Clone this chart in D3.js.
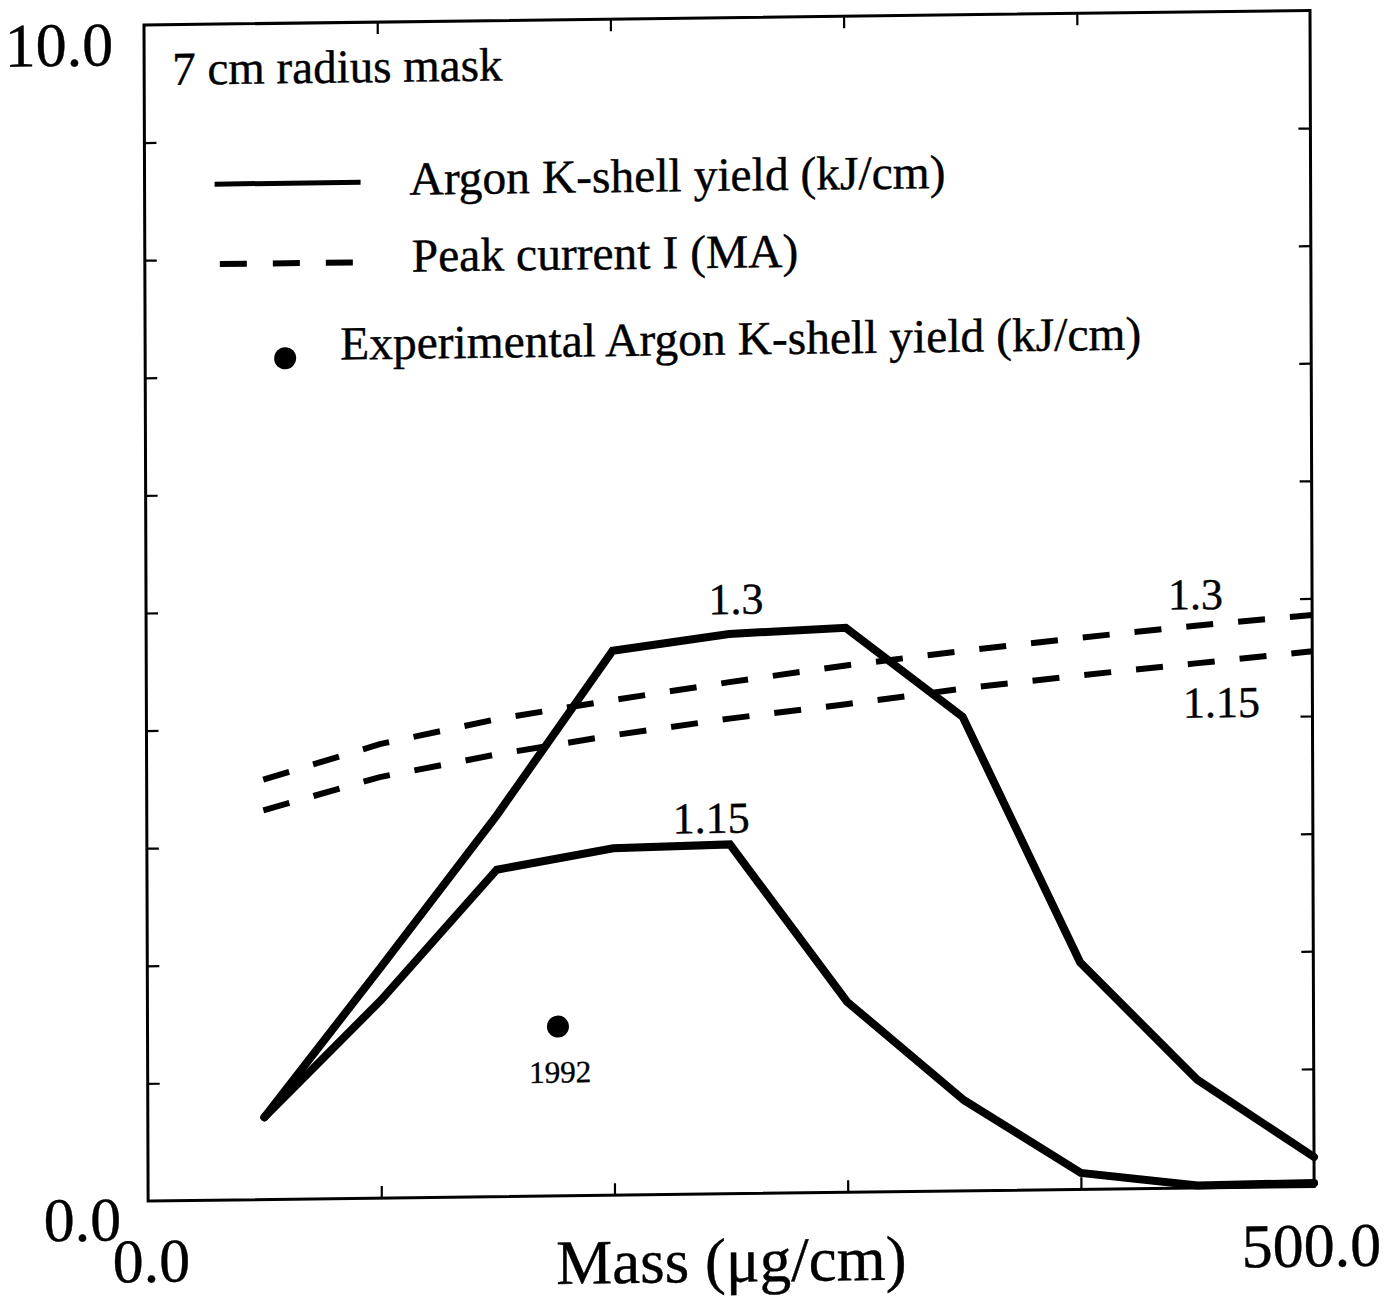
<!DOCTYPE html>
<html>
<head>
<meta charset="utf-8">
<script src="https://cdn.jsdelivr.net/npm/d3@7"></script>
<style>
  html, body { margin: 0; padding: 0; background: #fff; }
  svg { display: block; }
  text { font-family: "Liberation Serif", "Times New Roman", serif; fill: #000; stroke: #000; stroke-width: 0.4; }
</style>
</head>
<body>
<svg id="chart" width="1390" height="1300"></svg>
<script>
// Mass loading (µg/cm) at which the runs were computed
const mass = [50, 100, 150, 200, 250, 300, 350, 400, 450, 500];

// Argon K-shell yield (kJ/cm) for the two peak-current cases
const yieldHigh = [0.70, 1.96, 3.24, 4.63, 4.76, 4.80, 4.03, 1.93, 0.92, 0.25]; // 1.3
const yieldLow  = [0.70, 1.68, 2.78, 2.95, 2.97, 1.62, 0.77, 0.14, 0.02, 0.03]; // 1.15

// Peak current I (MA)
const currentHigh = [3.57, 3.86, 4.06, 4.21, 4.35, 4.48, 4.59, 4.69, 4.78, 4.86]; // 1.3
const currentLow  = [3.31, 3.58, 3.76, 3.91, 4.04, 4.15, 4.27, 4.37, 4.46, 4.55]; // 1.15

// Experimental shot
const expMass  = [176];
const expYield = [1.44];
const expYear  = ["1992"];

// Curve annotations
const curveLabelText  = ["1.3", "1.15", "1.3", "1.15"];
const curveLabelMass  = [253, 242, 450, 461];
const curveLabelValue = [4.93, 3.07, 4.92, 4.00];

// Axis ranges and end labels
const xDomain = [0, 500];
const yDomain = [0, 10];
const xTickValues = [100, 200, 300, 400];
const yTickValues = [1, 2, 3, 4, 5, 6, 7, 8, 9];
const xEndLabels = ["0.0", "500.0"];
const yEndLabels = ["0.0", "10.0"];
const xTitle = "Mass (\u03bcg/cm)";
const maskNote = "7 cm radius mask";
const legendText = [
  "Argon K-shell yield (kJ/cm)",
  "Peak current I (MA)",
  "Experimental Argon K-shell yield (kJ/cm)"
];

const W = 1166, H = 1176;
const svg = d3.select("#chart");
// slight shear of the whole figure frame
const g = svg.append("g")
  .attr("transform", "matrix(1,-0.0125,0.0035,1,144,25)");

const x = d3.scaleLinear().domain(xDomain).range([0, W]);
const y = d3.scaleLinear().domain(yDomain).range([H, 0]);

// frame
g.append("rect")
  .attr("x", 0).attr("y", 0).attr("width", W).attr("height", H)
  .attr("fill", "none").attr("stroke", "#000").attr("stroke-width", 3);

// inward ticks on all four sides
function ticks(axis, transform) {
  const a = g.append("g").attr("transform", transform).call(axis);
  a.select(".domain").remove();
  a.selectAll(".tick line").attr("stroke", "#000").attr("stroke-width", 2.2);
  a.selectAll(".tick text").remove();
}
ticks(d3.axisBottom(x).tickValues(xTickValues).tickSize(-12).tickFormat(""), `translate(0,${H})`);
ticks(d3.axisTop(x).tickValues(xTickValues).tickSize(-12).tickFormat(""), "translate(0,0)");
ticks(d3.axisLeft(y).tickValues(yTickValues).tickSize(-12).tickFormat(""), "translate(0,0)");
ticks(d3.axisRight(y).tickValues(yTickValues).tickSize(-12).tickFormat(""), `translate(${W},0)`);

// axis end labels
g.append("text").text(yEndLabels[1]).attr("x", x(0) - 31).attr("y", y(10) + 40)
  .attr("text-anchor", "end").attr("font-size", 62);
g.append("text").text(yEndLabels[0]).attr("x", x(0) - 27).attr("y", y(0) + 39)
  .attr("text-anchor", "end").attr("font-size", 62);
g.append("text").text(xEndLabels[0]).attr("x", x(0) + 3).attr("y", y(0) + 81)
  .attr("text-anchor", "middle").attr("font-size", 62);
g.append("text").text(xEndLabels[1]).attr("x", x(500) - 3).attr("y", y(0) + 80)
  .attr("text-anchor", "middle").attr("font-size", 62);
g.append("text").text(xTitle).attr("x", W / 2).attr("y", H + 88)
  .attr("text-anchor", "middle").attr("font-size", 63);

// series
const line = d3.line().x(d => x(d[0])).y(d => y(d[1])).curve(d3.curveLinear);
const pairs = vals => mass.map((m, i) => [m, vals[i]]);

[currentHigh, currentLow].forEach(vals => {
  g.append("path").datum(pairs(vals)).attr("d", line)
    .attr("fill", "none").attr("stroke", "#000").attr("stroke-width", 6)
    .attr("stroke-dasharray", "27,25");
});
[yieldHigh, yieldLow].forEach(vals => {
  g.append("path").datum(pairs(vals)).attr("d", line)
    .attr("fill", "none").attr("stroke", "#000").attr("stroke-width", 8)
    .attr("stroke-linejoin", "miter").attr("stroke-linecap", "round");
});

// experimental point
g.selectAll("circle.exp").data(expMass).join("circle").attr("class", "exp")
  .attr("cx", d => x(d)).attr("cy", (d, i) => y(expYield[i])).attr("r", 11).attr("fill", "#000");
g.selectAll("text.year").data(expYear).join("text").attr("class", "year")
  .attr("x", (d, i) => x(expMass[i]) + 2).attr("y", (d, i) => y(expYield[i]) + 56)
  .attr("text-anchor", "middle").attr("font-size", 31).text(d => d);

// curve annotations
g.selectAll("text.clabel").data(curveLabelText).join("text").attr("class", "clabel")
  .attr("x", (d, i) => x(curveLabelMass[i])).attr("y", (d, i) => y(curveLabelValue[i]))
  .attr("text-anchor", "middle").attr("font-size", 44).text(d => d);

// legend
g.append("text").text(maskNote).attr("x", 28).attr("y", 60).attr("font-size", 47);
g.append("line").attr("x1", 70).attr("x2", 216).attr("y1", 160).attr("y2", 160)
  .attr("stroke", "#000").attr("stroke-width", 5);
g.append("line").attr("x1", 75).attr("x2", 210).attr("y1", 240).attr("y2", 240)
  .attr("stroke", "#000").attr("stroke-width", 6).attr("stroke-dasharray", "27,26");
g.append("circle").attr("cx", 140).attr("cy", 335).attr("r", 11).attr("fill", "#000");
g.append("text").text(legendText[0]).attr("x", 265).attr("y", 173).attr("font-size", 47.5);
g.append("text").text(legendText[1]).attr("x", 267).attr("y", 250).attr("font-size", 47.5);
g.append("text").text(legendText[2]).attr("x", 195).attr("y", 337).attr("font-size", 47.5);
</script>
</body>
</html>
